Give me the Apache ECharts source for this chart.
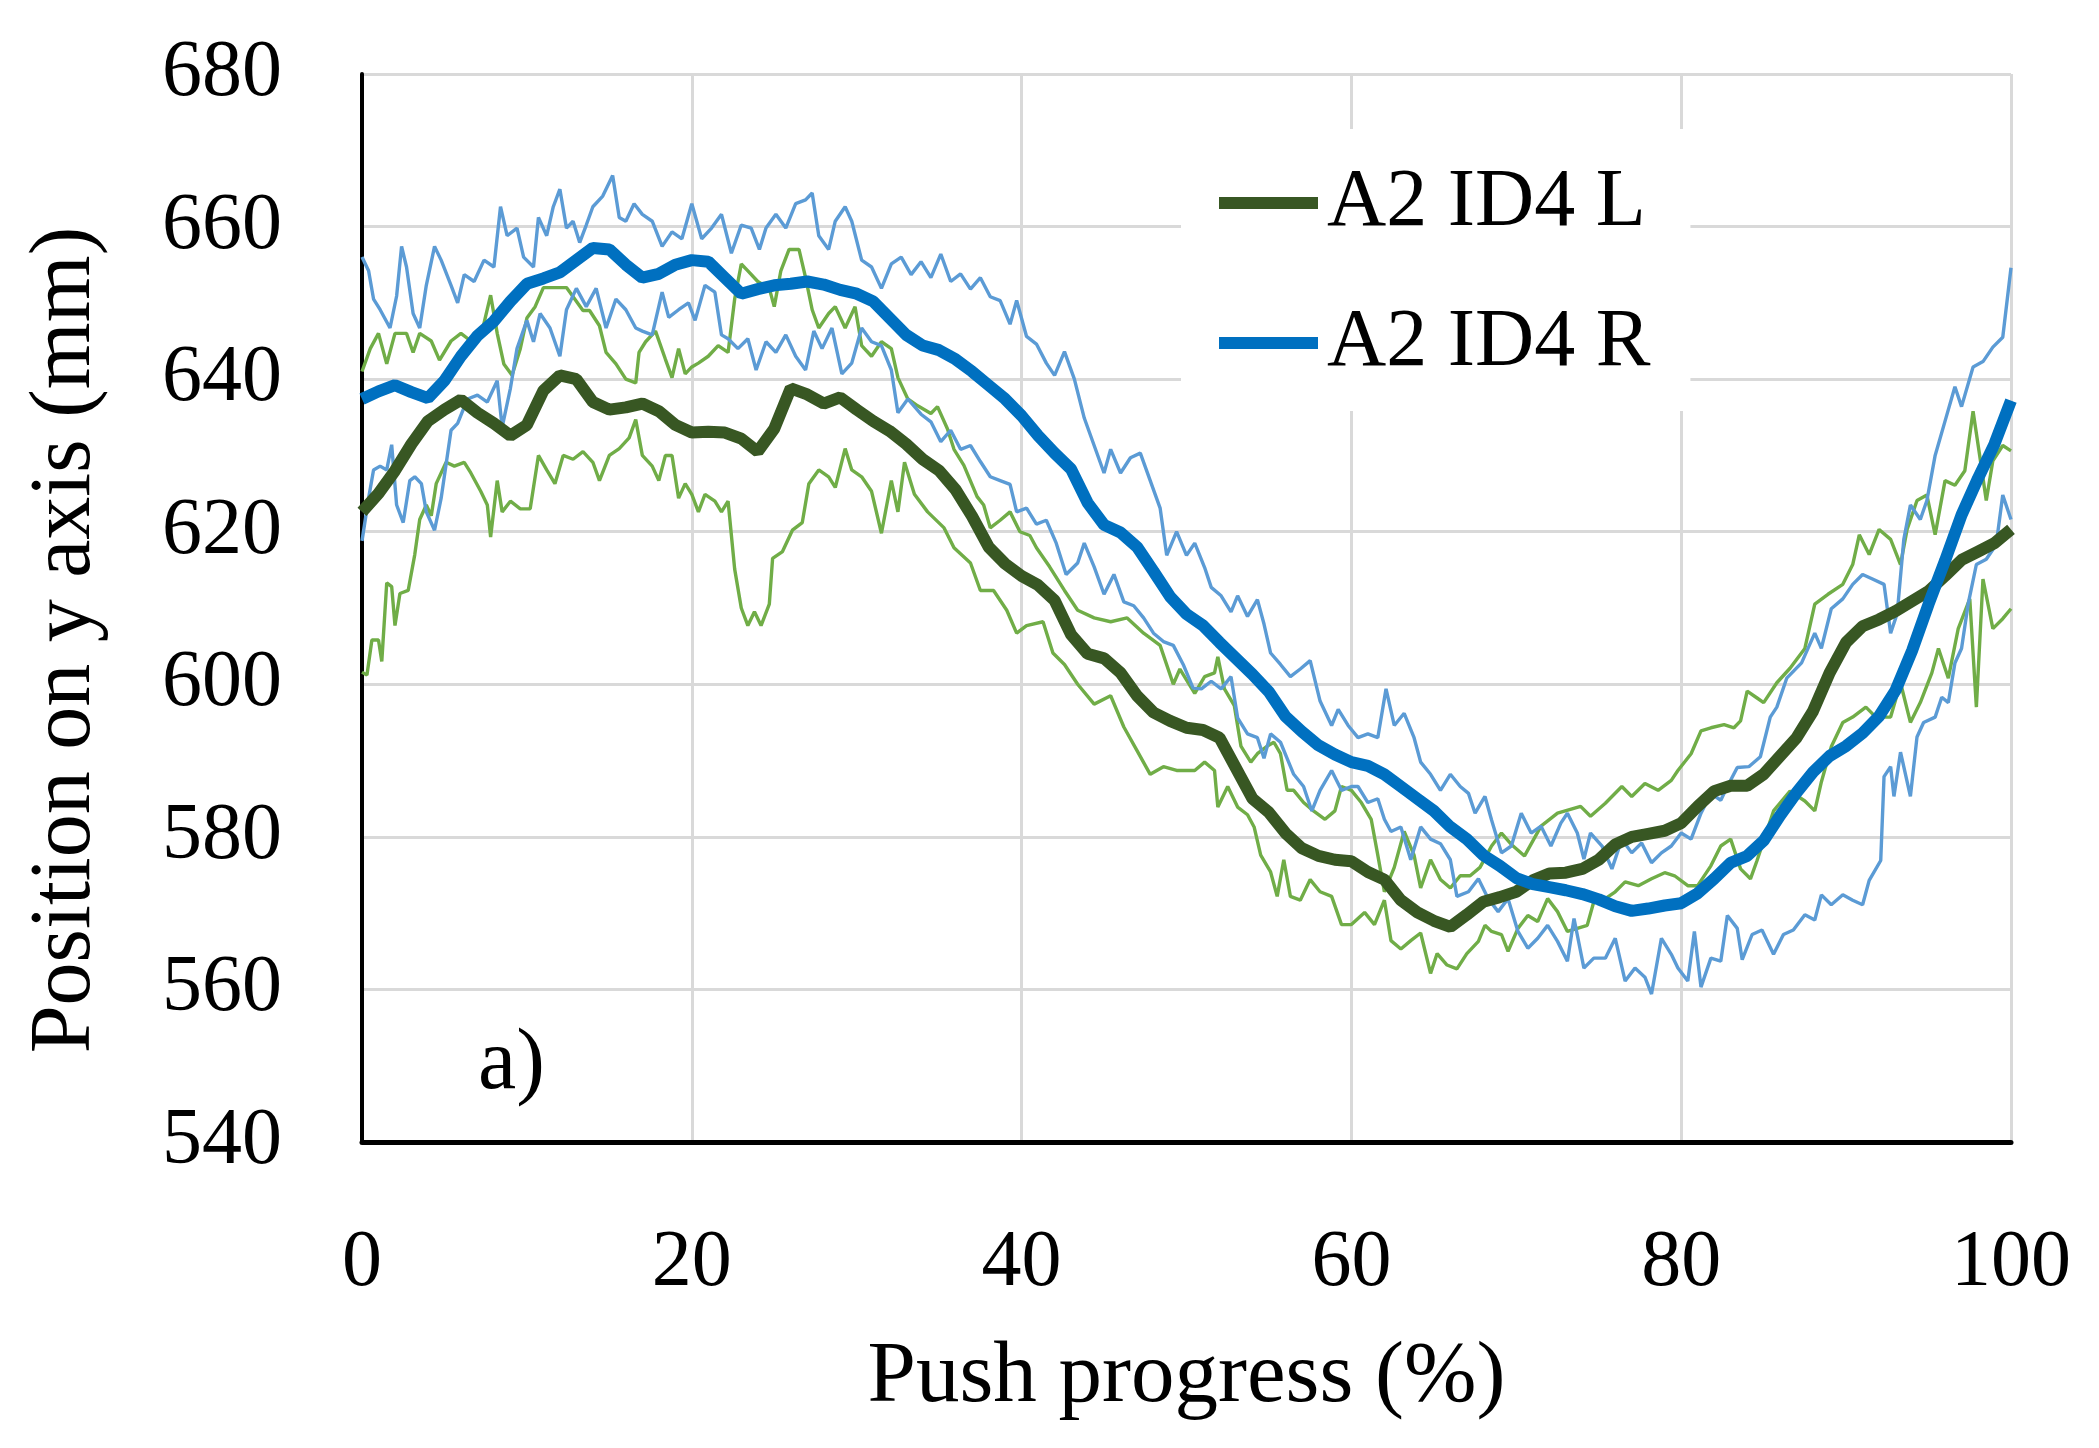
<!DOCTYPE html>
<html>
<head>
<meta charset="utf-8">
<script src="https://cdn.jsdelivr.net/npm/echarts@6/dist/echarts.min.js"></script>
<style>
html,body{margin:0;padding:0;background:#fff;}
#chart{width:2099px;height:1448px;}
</style>
</head>
<body>
<div id="chart"></div>
<script>
// ---- data ----
const progress = [];
for (let i = 0; i <= 100; i++) progress.push(i);

const meanL = [622.6,625,628,631.5,634.5,636,637.3,635.6,634.2,632.6,634,638.5,640.5,640,637,636,636.3,636.8,635.8,634,633,633.1,633,632.2,630.5,633.5,638.8,638,636.8,637.6,636,634.5,633.2,631.5,629.5,628,625.5,622,618,615.8,614.2,613,611,606.5,604,603.4,601.5,598.5,596.3,595.2,594.3,594,593,589,585,583.2,580.5,578.5,577.5,577,576.8,575.4,574.4,571.7,570.1,569,568.2,569.8,571.5,572.1,572.8,574.3,575.2,575.3,575.8,577,579,580,580.4,580.8,581.8,584,586,586.7,586.7,588.2,590.6,593,596.5,601.5,605.5,607.6,608.5,609.6,610.9,612.2,614.2,616.3,617.4,618.5,620.3];

const meanR = [637.4,638.4,639.2,638.3,637.5,639.8,643,645.7,647.6,650.2,652.5,653.2,654,655.6,657.2,657,655,653.3,653.8,655,655.6,655.4,653.3,651.2,651.8,652.3,652.5,652.8,652.4,651.7,651.2,650.2,648,645.8,644.4,643.8,642.6,641,639.2,637.4,635.2,632.6,630.3,628.2,623.8,620.9,619.9,618,614.8,611.5,609.2,607.7,605.5,603.4,601.3,599,595.8,593.8,592,590.8,589.8,589.3,588.2,586.6,585,583.4,581.3,579.7,577.6,576.2,574.6,573.8,573.4,573,572.5,571.8,570.9,570.3,570.6,571,571.3,572.6,574.5,576.6,577.5,579.5,582.8,585.8,588.5,590.6,591.9,593.6,595.8,599.2,604.4,610.5,616.2,622.2,627,631.5,637.2];

const upperR = [[0,656],[0.4,654.2],[0.7,650.5],[1.1,649.1],[1.7,646.7],[2.1,650.9],[2.4,657.4],[2.7,654.7],[3.1,648.6],[3.5,646.7],[3.9,652.3],[4.4,657.4],[4.8,655.6],[5.4,652.3],[5.8,650],[6.2,653.7],[6.8,652.8],[7.4,655.6],[8,654.7],[8.4,662.6],[8.8,658.8],[9.4,659.8],[9.8,656],[10.4,654.7],[10.7,661.2],[11.2,658.8],[11.6,662.6],[12,664.9],[12.4,659.8],[12.8,660.7],[13.2,657.9],[13.6,660.2],[14,662.6],[14.6,664],[15.2,666.7],[15.6,661.2],[16,660.7],[16.5,663],[17,661.6],[17.6,660.7],[18.2,657.4],[18.8,659.3],[19.4,658.4],[20,663],[20.6,658.4],[21.2,659.8],[21.8,661.6],[22.4,656.5],[23,660.2],[23.6,659.8],[24.1,657],[24.5,659.8],[25.1,661.6],[25.7,659.8],[26.3,663],[26.9,663.5],[27.3,664.4],[27.7,658.8],[28.3,657],[28.7,660.7],[29.3,662.6],[29.7,660.7],[30.3,655.6],[30.9,654.7],[31.5,651.9],[32.1,655.1],[32.7,656],[33.3,653.7],[33.9,655.4],[34.5,653.3],[35.1,656.4],[35.7,652.8],[36.3,653.8],[36.9,651.8],[37.5,653.3],[38.1,650.8],[38.7,650.3],[39.3,647.2],[39.7,650.3],[40.3,645.6],[40.9,644.6],[41.5,642.1],[42,640.5],[42.6,643.6],[43.2,640],[43.8,634.9],[44.4,631.3],[45,627.7],[45.4,630.8],[46,627.7],[46.6,629.7],[47.2,630.3],[47.8,626.7],[48.4,623.1],[48.8,616.9],[49.4,620],[50,616.9],[50.5,618.5],[51.1,615.3],[51.5,612.7],[52.1,611.6],[52.7,609.5],[53.1,611.6],[53.7,608.9],[54.3,611.1],[54.7,607.9],[55.1,604.1],[55.7,602.6],[56.3,601],[56.9,602],[57.5,603.1],[58.1,597.8],[58.8,594.6],[59.2,596.7],[59.8,594.6],[60.4,593],[61,593.5],[61.6,593],[62.1,599.4],[62.6,594.6],[63.2,596.2],[63.8,593],[64.2,589.8],[64.8,588.2],[65.4,586.1],[66,588.2],[66.6,586.6],[67.1,585.7],[67.5,583.1],[68.1,585.3],[68.5,582.2],[69.1,577.9],[69.7,578.8],[70.3,583.1],[70.9,580.5],[71.5,581.4],[72.1,578.8],[72.7,581.8],[73.1,583.1],[73.7,580.5],[74.1,577.1],[74.5,580.5],[75.2,578.8],[75.8,575.8],[76.4,579.7],[77,577.9],[77.6,579.2],[78.2,576.6],[78.8,577.9],[79.4,578.8],[80,580.5],[80.6,579.7],[81.2,583.1],[81.8,585.7],[82.4,584.8],[82.8,586.6],[83.4,589.1],[84.1,589.2],[84.8,590.5],[85.4,595.7],[85.8,597],[86.4,600.8],[87.3,602.8],[88.1,606.7],[88.5,604.7],[89.1,609.9],[89.8,611.2],[90.4,613.1],[91,614.4],[91.6,613.8],[92.3,613.1],[92.7,606.7],[93.1,609.3],[93.5,619],[93.9,623.5],[94.5,621.6],[94.9,624.1],[95.4,630],[96,634.5],[96.6,639],[97,636.4],[97.7,641.6],[98.3,642.3],[98.9,644.2],[99.5,645.5],[100,654.6]];

const lowerR = [[0,618.8],[0.4,624.4],[0.7,628.1],[1.1,628.6],[1.5,628.1],[1.8,631.4],[2.1,623.5],[2.5,621.2],[2.9,626.7],[3.2,627.2],[3.6,626.3],[3.9,622.6],[4.4,620.2],[4.8,624.4],[5.4,633.3],[5.8,634.2],[6.4,637.4],[7,637.9],[7.6,637],[8.2,639.8],[8.5,633.7],[9,638.8],[9.4,644],[10,647.7],[10.4,644.9],[10.8,648.6],[11.4,646.7],[12,643],[12.4,649.1],[13,651.9],[13.6,649.5],[14.2,651.9],[14.8,646.7],[15.4,650.5],[16,649.1],[16.6,646.7],[17,646.3],[17.6,645.8],[18.2,651.4],[18.6,648.1],[19.2,649.1],[19.8,650],[20.2,647.7],[20.8,652.3],[21.4,651.4],[21.8,645.8],[22.2,645.3],[22.8,644],[23.4,645.3],[23.9,641.2],[24.5,644.9],[25.1,643.5],[25.7,645.8],[26.3,643],[26.9,641.2],[27.4,646.3],[27.9,644],[28.5,646.7],[29.1,640.7],[29.7,642.1],[30.3,646.7],[30.9,644.9],[31.5,644.4],[32.1,641.2],[32.5,635.6],[33.1,637.4],[33.9,635.4],[34.5,634.4],[35.1,631.8],[35.7,633.3],[36.3,630.8],[36.9,631.3],[37.5,629.2],[38.1,627.2],[38.7,626.7],[39.3,626.2],[39.7,622.6],[40.3,623.1],[40.9,621],[41.5,621.5],[42.1,618.5],[42.7,614.4],[43.4,615.9],[43.8,618.5],[44.4,615.4],[45,611.8],[45.6,614.4],[46.2,610.8],[46.8,610.3],[47.4,608.7],[48,606.7],[48.6,605.6],[49.2,605.1],[49.8,602.6],[50.4,599.5],[50.9,599.4],[51.5,600.4],[52.1,599.4],[52.7,601],[53.1,595.6],[53.7,593.5],[54.3,593],[54.7,590.3],[55.1,593.5],[55.7,592.4],[56.1,590.3],[56.5,588.2],[57.1,586.6],[57.6,583.4],[58.1,586.1],[58.8,588.7],[59.4,586.1],[60,586.6],[60.4,586.6],[61,584.5],[61.6,585],[62,582.3],[62.4,580.7],[63,581.3],[63.6,577],[64.2,581.3],[64.8,579.7],[65.4,579.1],[66,577],[66.4,572.2],[67.1,572.8],[67.7,574.5],[68.3,571.9],[68.9,570.2],[69.5,571.9],[70.1,567.6],[70.7,565.4],[71.3,566.7],[71.9,568.4],[72.5,566.3],[73.1,563.7],[73.5,569.3],[74.1,562.8],[74.7,564.1],[75.4,564.1],[76,566.7],[76.6,561.1],[77.2,562.8],[77.8,561.6],[78.2,559.4],[78.8,566.7],[79.4,564.6],[79.8,562.8],[80.4,561.1],[80.8,567.6],[81.2,560.3],[81.8,564.1],[82.4,563.7],[82.8,569.7],[83.4,568],[83.7,563.9],[84.3,567.2],[84.9,567.8],[85.6,564.6],[86.2,567.2],[86.8,567.8],[87.5,569.8],[88.1,569.1],[88.5,572.4],[89.1,571.1],[89.8,572.4],[90.4,571.7],[91,571.1],[91.4,574.3],[92.1,576.9],[92.3,587.9],[92.7,589.2],[92.9,585.3],[93.3,591.1],[93.9,585.3],[94.3,593.1],[94.7,595],[95.4,595.7],[95.8,598.3],[96.2,597.6],[96.6,602.8],[97,604.7],[97.4,610.5],[97.9,615.7],[98.5,616.4],[99.1,618.3],[99.5,624.8],[100,621.6]];

const upperL = [[0,641],[0.5,644],[1,646],[1.5,642],[2,646],[2.7,646],[3.1,643.5],[3.5,646],[4.2,645],[4.7,642.5],[5.4,645],[6,646],[6.6,645],[7.2,645.5],[7.8,651],[8.2,646],[8.6,642],[9.1,640.5],[9.6,644],[10,648],[10.5,649.5],[11,652],[11.6,652],[12.4,652],[12.9,650.5],[13.4,649],[13.8,649],[14.4,647],[14.8,643.5],[15.4,642],[16,640],[16.6,639.5],[16.8,643.5],[17.2,644.9],[17.8,646.3],[18.4,642.6],[18.8,640.2],[19.2,644],[19.6,640.7],[20,641.6],[20.4,642.1],[21,643],[21.6,644.4],[22.2,643.5],[22.6,650.5],[23,655.1],[23.4,654.2],[24,652.8],[24.7,651.9],[25,649.5],[25.4,654.2],[25.9,657],[26.5,657],[26.9,653.3],[27.3,649.1],[27.7,646.7],[28.3,648.6],[28.7,649.5],[29.3,646.7],[29.9,649.5],[30.3,644.4],[30.9,643],[31.5,644.9],[32.1,644],[32.5,640.2],[33.1,637.4],[33.7,636.5],[34.5,635.5],[34.9,636.4],[35.5,633.5],[35.9,630.8],[36.5,628.7],[37.3,624.6],[37.7,623.5],[38.1,620.5],[38.7,621.5],[39.3,622.6],[39.9,620],[40.5,619.5],[40.9,617.9],[41.7,615.4],[42.6,612.3],[43.4,609.7],[44.4,608.7],[45.4,608.2],[46.4,608.7],[47.4,606.7],[48.4,605.1],[49.2,600],[49.6,602],[50.5,598.8],[51.1,601],[51.7,601.5],[51.9,603.6],[52.3,599.4],[52.9,597.2],[53.3,591.9],[53.9,589.8],[54.3,590.9],[54.9,591.9],[55.3,592.4],[55.7,590.9],[56.1,586.1],[56.5,586.1],[57.1,584.5],[57.7,583.4],[58.4,582.3],[59,583.4],[59.4,586.6],[60,586.1],[60.6,584.5],[61.2,582.3],[61.6,577.6],[62,572.8],[62.6,576],[63.2,580.7],[63.8,577.6],[64.2,573.3],[64.8,577],[65.4,574.4],[66,573.3],[66.6,574.9],[67.2,574.9],[67.8,576],[68.5,578.8],[69.1,580.5],[69.7,579],[70.5,577.5],[71.5,581.4],[72.5,583.1],[73.9,584],[74.5,582.7],[75.4,584.4],[76.4,586.6],[77,585.3],[77.8,587],[78.6,586.1],[79.4,587.4],[79.8,588.7],[80.6,590.9],[81.2,593.9],[81.8,594.3],[82.6,594.7],[83.2,594.3],[83.6,595.2],[84,599.1],[84.6,598.2],[85,597.6],[85.8,600.2],[86.6,602.1],[87.5,604.7],[88.1,610.5],[88.9,611.8],[89.8,613.1],[90.4,615.7],[90.8,619.6],[91.4,617],[92,620.3],[92.7,619],[93.3,615.7],[93.7,620.3],[94.3,624.1],[94.9,624.8],[95.4,619.6],[96,626.7],[96.6,626.1],[97.2,628],[97.7,635.8],[98.1,630],[98.5,624.1],[98.9,629.3],[99.5,631.3],[100,630.6]];

const lowerL = [[0,601.6],[0.3,601.2],[0.6,605.8],[1,605.8],[1.2,603],[1.5,613.3],[1.8,612.8],[2,607.7],[2.3,611.9],[2.8,612.3],[3.2,617],[3.5,621.6],[3.9,623.5],[4.2,622.1],[4.5,626.3],[5.1,629.1],[5.6,628.6],[6.2,629.1],[6.6,627.7],[7.2,625.3],[7.6,623.5],[7.8,619.3],[8.2,626.7],[8.5,622.6],[9,624],[9.6,623],[10.2,623],[10.7,630],[11.2,628.1],[11.7,626.3],[12.2,630],[12.8,629.5],[13.4,630.5],[14,629.1],[14.4,626.7],[15,630],[15.6,630.9],[16.2,632.3],[16.6,634.7],[17,630],[17.6,628.6],[18,626.7],[18.4,630],[18.8,630],[19.2,624.4],[19.6,626.3],[20,624.9],[20.4,622.6],[20.8,624.9],[21.4,624],[21.8,622.6],[22.2,624],[22.6,615.1],[23,610],[23.4,607.7],[23.8,609.5],[24.2,607.7],[24.7,610.5],[24.9,616.5],[25.5,617.4],[26.1,620.2],[26.7,621.2],[27.1,626.3],[27.7,628.1],[28.3,627.2],[28.7,625.8],[29.3,630.9],[29.7,628.1],[30.3,627.2],[30.9,625.3],[31.5,619.8],[32.1,626.7],[32.5,622.6],[32.9,629.1],[33.5,624.9],[34.3,622.6],[35.3,620.5],[35.9,617.9],[36.9,615.9],[37.5,612.3],[38.3,612.3],[39.1,609.7],[39.7,606.7],[40.3,607.7],[41.3,608.2],[41.9,604.1],[42.6,602.6],[43.4,600],[44.4,597.4],[45.4,598.5],[46.2,594.4],[47,591.3],[47.8,588.2],[48.6,589.2],[49.4,588.7],[50.5,588.7],[51.1,589.8],[51.7,588.7],[51.9,583.9],[52.5,586.6],[53.1,583.9],[53.7,582.9],[54.1,581.3],[54.5,577.6],[55.1,575.4],[55.5,572.2],[55.9,577],[56.3,572.2],[56.9,571.7],[57.5,574.4],[58.1,572.8],[58.8,572.2],[59.4,568.5],[60,568.5],[60.8,570.1],[61.4,568.5],[62,571.7],[62.4,566.4],[63,565.3],[63.6,566.4],[64.2,567.4],[64.8,562.1],[65.2,564.7],[65.8,563.2],[66.4,562.7],[67,564.7],[67.7,566.3],[68.1,568.4],[68.5,567.6],[69.1,567.2],[69.5,565],[70.1,568],[70.7,569.7],[71.3,568.9],[71.9,571.9],[72.5,570.2],[73.1,567.6],[73.7,568],[74.3,568.4],[74.7,571.5],[75.4,571.9],[76,572.8],[76.6,574.1],[77.4,573.6],[78.2,574.5],[79,575.3],[79.6,574.9],[80.4,573.6],[81,573.6],[81.8,576.2],[82.4,578.8],[83,579.7],[83.6,575.8],[84.2,574.5],[84.6,576.9],[85.6,583.4],[86.6,586],[87.5,584.7],[88.1,583.4],[88.5,587.2],[89.1,591.8],[89.8,595],[90.4,595.7],[91.2,597],[91.8,595.7],[92.7,595.7],[93.3,600.2],[93.9,595],[94.5,597.6],[95.2,601.5],[95.6,604.7],[96.2,600.8],[96.8,607.3],[97.5,611.2],[97.9,597],[98.3,613.8],[98.9,607.3],[99.5,608.6],[100,609.9]];

const seriesNames = ['A2 ID4 L', 'A2 ID4 R'];
const xTitle = 'Push progress (%)';
const yTitle = 'Position on y axis (mm)';
const panelLabel = 'a)';

// ---- chart ----
const FONT = "'Liberation Serif','DejaVu Serif',serif";
const chart = echarts.init(document.getElementById('chart'), null, {renderer: 'canvas'});

const pair = (xs, ys) => xs.map((x, i) => [x, ys[i]]);
const thin = (data, color) => ({
  type: 'line', data, showSymbol: false, symbol: 'none', silent: true,
  lineStyle: {color, width: 3.4}, itemStyle: {color}, z: 2
});

chart.setOption({
  animation: false,
  backgroundColor: '#ffffff',
  grid: {left: 362, right: 88, top: 74, bottom: 306, containLabel: false},
  legend: {
    data: seriesNames,
    orient: 'vertical',
    left: 1181, top: 129,
    backgroundColor: '#ffffff',
    padding: [33, 40, 27, 38],
    itemGap: 58,
    icon: 'rect',
    itemWidth: 99, itemHeight: 12,
    textStyle: {fontFamily: FONT, fontSize: 82, color: '#000', lineHeight: 82, padding: [0, 0, 0, 4]}
  },
  xAxis: {
    type: 'value', min: 0, max: 100, interval: 20,
    name: xTitle, nameLocation: 'middle', nameGap: 193,
    nameTextStyle: {fontFamily: FONT, fontSize: 87, color: '#000'},
    axisLine: {show: true, onZero: false, lineStyle: {color: '#000', width: 5}},
    axisTick: {show: false},
    axisLabel: {fontFamily: FONT, fontSize: 80, color: '#000', margin: 82},
    splitLine: {show: true, lineStyle: {color: '#d9d9d9', width: 3}}
  },
  yAxis: {
    type: 'value', min: 540, max: 680, interval: 20,
    name: yTitle, nameLocation: 'middle', nameGap: 253, nameRotate: 90,
    nameTextStyle: {fontFamily: FONT, fontSize: 86, color: '#000', padding: [0, 64, 0, 0]},
    axisLine: {show: true, lineStyle: {color: '#000', width: 4}},
    axisTick: {show: false},
    axisLabel: {fontFamily: FONT, fontSize: 80, color: '#000', margin: 80},
    splitLine: {show: true, lineStyle: {color: '#d9d9d9', width: 3}}
  },
  graphic: [{
    type: 'text', left: 478, top: 1022, silent: true,
    style: {text: panelLabel, font: "86px 'Liberation Serif','DejaVu Serif',serif", fill: '#000'}
  }],
  series: [
    thin(upperL, '#70AD47'),
    thin(lowerL, '#70AD47'),
    thin(upperR, '#5B9BD5'),
    thin(lowerR, '#5B9BD5'),
    {
      name: seriesNames[0], type: 'line', data: pair(progress, meanL),
      showSymbol: false, symbol: 'none', z: 3,
      lineStyle: {color: '#385723', width: 12}, itemStyle: {color: '#385723'}
    },
    {
      name: seriesNames[1], type: 'line', data: pair(progress, meanR),
      showSymbol: false, symbol: 'none', z: 4,
      lineStyle: {color: '#0070C0', width: 12}, itemStyle: {color: '#0070C0'}
    }
  ]
});
</script>
</body>
</html>
